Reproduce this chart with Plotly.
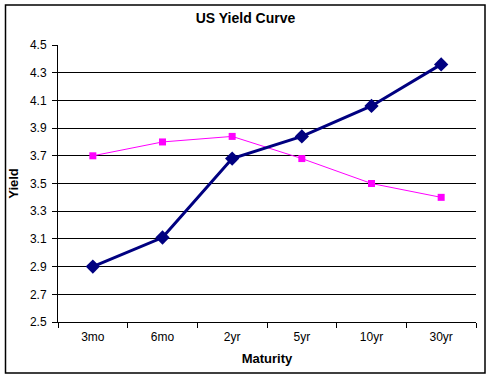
import plotly.graph_objects as go

maturities = ["3mo", "6mo", "2yr", "5yr", "10yr", "30yr"]
yield_now = [2.90, 3.11, 3.68, 3.84, 4.06, 4.36]
yield_prev = [3.70, 3.80, 3.84, 3.68, 3.50, 3.40]
y_ticks = [2.5, 2.7, 2.9, 3.1, 3.3, 3.5, 3.7, 3.9, 4.1, 4.3, 4.5]

W, H = 491, 379
L, R, T, B = 58, 15, 45, 57
pw, ph = W - L - R, H - T - B

def px(x):
    return (x - L) / pw

def py(y):
    return (H - B - y) / ph

font = "Liberation Sans, Arial, sans-serif"

fig = go.Figure()
fig.add_trace(go.Scatter(
    x=maturities, y=yield_prev, mode="lines+markers",
    line=dict(color="#FF00FF", width=1),
    marker=dict(symbol="square", size=7, color="#FF00FF"),
    showlegend=False, cliponaxis=False))
fig.add_trace(go.Scatter(
    x=maturities, y=yield_now, mode="lines+markers",
    line=dict(color="#000080", width=3),
    marker=dict(symbol="diamond", size=11, color="#000080"),
    showlegend=False, cliponaxis=False))

fig.update_layout(
    width=W, height=H,
    margin=dict(l=L, r=R, t=T, b=B, pad=0),
    paper_bgcolor="white", plot_bgcolor="white",
    font=dict(family=font, size=12, color="black"),
    title=dict(text="<b>US Yield Curve</b>", x=0.5, xanchor="center",
               y=1 - 18 / H, yanchor="middle",
               font=dict(size=14, family=font)),
    xaxis=dict(
        type="category", range=[-0.5, len(maturities) - 0.5],
        tickson="boundaries", ticks="outside", ticklen=5,
        tickcolor="black", showline=True, linecolor="black", linewidth=1,
        showgrid=False, zeroline=False, ticklabelstandoff=4,
        title=dict(text="<b>Maturity</b>", standoff=10, font=dict(size=13)),
        tickfont=dict(size=12)),
    yaxis=dict(
        range=[2.5, 4.5], tickvals=y_ticks,
        ticktext=[f"{v:.1f}" for v in y_ticks],
        ticks="outside", ticklen=5, tickcolor="black",
        showline=True, linecolor="black", linewidth=1,
        showgrid=True, gridcolor="black", gridwidth=1, zeroline=False,
        ticklabelstandoff=3,
        title=dict(text="<b>Yield</b>", standoff=8, font=dict(size=13)),
        tickfont=dict(size=12)),
    shapes=[dict(type="rect", xref="paper", yref="paper",
                 x0=px(5.5), x1=px(485), y0=py(373), y1=py(5),
                 line=dict(color="black", width=1.5), layer="above")],
)

fig.write_html("out.html", config={"displayModeBar": False},
               post_script="document.body.style.margin='0';document.body.style.overflow='hidden';")
